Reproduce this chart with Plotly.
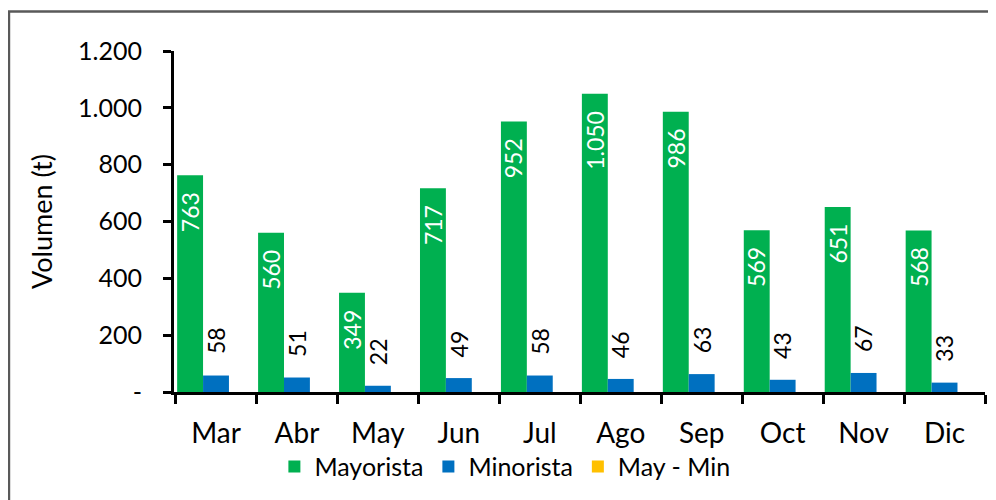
import plotly.graph_objects as go

months = ["Mar", "Abr", "May", "Jun", "Jul", "Ago", "Sep", "Oct", "Nov", "Dic"]
mayorista = [763, 560, 349, 717, 952, 1050, 986, 569, 651, 568]
minorista = [58, 51, 22, 49, 58, 46, 63, 43, 67, 33]
may_min = [None] * len(months)

y_ticks = [0, 200, 400, 600, 800, 1000, 1200]


def fmt(v):
    return f"{v:,}".replace(",", ".")


y_ticktext = ["-" if v == 0 else fmt(v) for v in y_ticks]

FONT = "Lato, 'Open Sans', sans-serif"
GREEN = "#00B050"
BLUE = "#0070C0"
YELLOW = "#FFC000"

fig = go.Figure()
fig.add_bar(x=months, y=mayorista, name="Mayorista", marker_color=GREEN,
            marker_line_width=0)
fig.add_bar(x=months, y=minorista, name="Minorista", marker_color=BLUE,
            marker_line_width=0)
fig.add_bar(x=months, y=may_min, name="May - Min", marker_color=YELLOW,
            marker_line_width=0)

annotations = []
for m, v in zip(months, mayorista):
    annotations.append(dict(x=m, y=v, xref="x", yref="y", text=fmt(v),
                            textangle=-90, showarrow=False, xanchor="center",
                            yanchor="top", xshift=-26, yshift=-15,
                            font=dict(family=FONT, size=23, color="white")))
for m, v in zip(months, minorista):
    annotations.append(dict(x=m, y=v, xref="x", yref="y", text=fmt(v),
                            textangle=-90, showarrow=False, xanchor="center",
                            yanchor="bottom", xshift=0, yshift=19,
                            font=dict(family=FONT, size=23, color="black")))

# page body has an 8px margin, so the figure is sized to the remaining area
fig.update_layout(
    width=988, height=492,
    margin=dict(l=166, r=11, t=43, b=107),
    paper_bgcolor="white", plot_bgcolor="white",
    barmode="group", bargap=0.04, bargroupgap=0,
    font=dict(family=FONT, size=22, color="black"),
    showlegend=True,
    legend=dict(orientation="h", x=0.408, y=-0.216, xanchor="center",
                yanchor="middle", font=dict(family=FONT, size=25),
                bgcolor="rgba(0,0,0,0)",
                itemclick=False, traceorder="normal"),
    annotations=annotations,
    shapes=[dict(type="rect", xref="paper", yref="paper",
                 x0=-0.2035, x1=1.05, y0=-0.5, y1=1.1155,
                 line=dict(color="#595959", width=2.5), layer="above")],
)

fig.update_xaxes(
    type="category", showline=True, linecolor="black", linewidth=3,
    ticks="outside", tickson="boundaries", ticklen=9, tickwidth=3,
    tickcolor="black", showgrid=False, zeroline=False,
    tickfont=dict(family=FONT, size=28), ticklabelstandoff=14,
)
fig.update_yaxes(
    range=[0, 1200], tickvals=y_ticks, ticktext=y_ticktext,
    showline=True, linecolor="black", linewidth=3,
    ticks="outside", ticklen=8, tickwidth=3, tickcolor="black",
    showgrid=False, zeroline=False,
    tickfont=dict(family=FONT, size=25), ticklabelstandoff=16,
    title=dict(text="Volumen (t)", font=dict(family=FONT, size=27), standoff=18),
)

fig.write_html("out.html")
